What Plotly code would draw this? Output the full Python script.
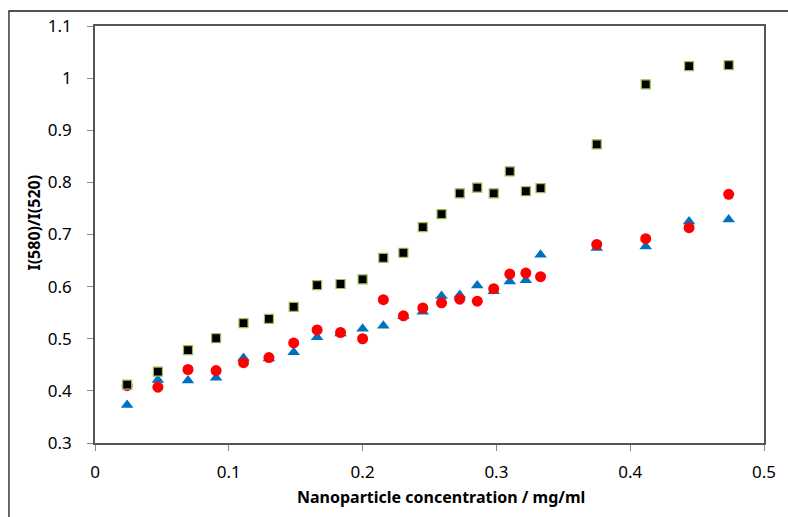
import plotly.graph_objects as go

# Nanoparticle concentration (mg/ml)
conc = [0.024, 0.047, 0.0695, 0.0905, 0.111, 0.130, 0.1485, 0.166, 0.1835, 0.200,
        0.2155, 0.2305, 0.245, 0.259, 0.2726, 0.2857, 0.298, 0.310, 0.322, 0.333,
        0.375, 0.4116, 0.444, 0.4736]

# Intensity ratio I(580)/I(520) for each sample
ratio_square = [0.412, 0.437, 0.478, 0.501, 0.530, 0.538, 0.561, 0.603, 0.605, 0.614,
                0.655, 0.665, 0.714, 0.739, 0.779, 0.790, 0.779, 0.821, 0.783, 0.789,
                0.873, 0.988, 1.023, 1.025]
ratio_circle = [0.410, 0.407, 0.441, 0.439, 0.454, 0.464, 0.492, 0.517, 0.512, 0.500,
                0.575, 0.544, 0.559, 0.569, 0.576, 0.572, 0.596, 0.624, 0.626, 0.619,
                0.681, 0.692, 0.713, 0.777]
ratio_triangle = [0.373, 0.421, 0.420, 0.425, 0.463, 0.462, 0.474, 0.503, 0.510, 0.519,
                  0.525, 0.543, 0.552, 0.582, 0.584, 0.602, 0.591, 0.610, 0.612, 0.661,
                  0.674, 0.677, 0.725, 0.729]

x_ticks = [0, 0.1, 0.2, 0.3, 0.4, 0.5]
x_tick_text = ["0", "0.1", "0.2", "0.3", "0.4", "0.5"]
y_ticks = [0.3, 0.4, 0.5, 0.6, 0.7, 0.8, 0.9, 1.0, 1.1]
y_tick_text = ["0.3", "0.4", "0.5", "0.6", "0.7", "0.8", "0.9", "1", "1.1"]

x_title = "Nanoparticle concentration / mg/ml"
y_title = "I(580)/I(520)"

FONT = "Noto Sans"

fig = go.Figure()
fig.add_trace(go.Scatter(
    x=conc, y=ratio_triangle, mode="markers",
    marker=dict(symbol="triangle-up", size=11, color="#0070C0", line=dict(width=0)),
))
fig.add_trace(go.Scatter(
    x=conc, y=ratio_circle, mode="markers",
    marker=dict(symbol="circle", size=11, color="#FF0000", line=dict(width=0)),
))
fig.add_trace(go.Scatter(
    x=conc, y=ratio_square, mode="markers",
    marker=dict(symbol="square", size=9, color="#000000",
                line=dict(width=1.2, color="#9BBB59")),
))

axis_common = dict(
    showgrid=False, zeroline=False,
    showline=True, linecolor="#555555", linewidth=1.6, mirror=True,
    ticks="outside", ticklen=6, tickwidth=1, tickcolor="#888888",
    tickfont=dict(family=FONT, size=17, color="#000000"),
)

fig.update_layout(
    width=788, height=517,
    margin=dict(l=95, r=16, t=26, b=74),
    paper_bgcolor="white", plot_bgcolor="white",
    showlegend=False,
    font=dict(family=FONT, color="#000000"),
    xaxis=dict(range=[0, 0.5], tickvals=x_ticks, ticktext=x_tick_text,
               ticklabelstandoff=7, **axis_common),
    yaxis=dict(range=[0.3, 1.1], tickvals=y_ticks, ticktext=y_tick_text,
               ticklabelstandoff=12, **axis_common),
    annotations=[
        dict(text="<b>" + x_title + "</b>", xref="paper", yref="paper",
             x=0.5172, y=-0.1287, xanchor="center", yanchor="middle",
             showarrow=False, font=dict(family=FONT, size=16)),
        dict(text="<b>" + y_title + "</b>", xref="paper", yref="paper",
             x=-0.0916, y=0.528, xanchor="center", yanchor="middle",
             textangle=-90, showarrow=False, font=dict(family=FONT, size=16)),
    ],
    shapes=[dict(
        type="rect", xref="paper", yref="paper",
        x0=-0.1286, x1=1.04, y0=-0.2, y1=1.036,
        line=dict(color="#1a1a1a", width=1.3), fillcolor="rgba(0,0,0,0)",
        layer="below",
    )],
)

fig.write_html("out.html")
